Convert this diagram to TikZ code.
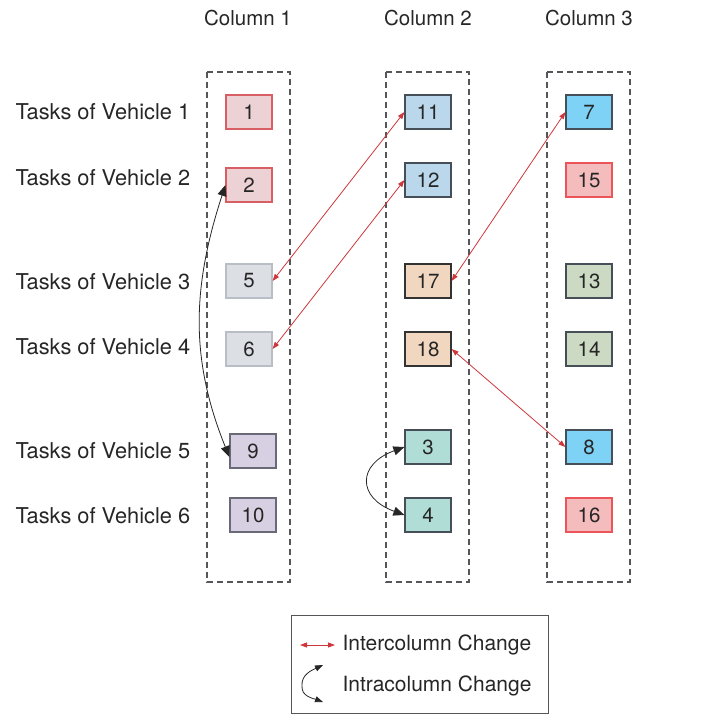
\documentclass[tikz,border=0pt]{standalone}
\usepackage{fontspec}
\setmainfont{TeX Gyre Heros}
\usetikzlibrary{arrows.meta}
\definecolor{dashgray}{RGB}{85,85,90}
\definecolor{redarrow}{RGB}{205,55,60}
\definecolor{pinkfill}{RGB}{236,209,213}\definecolor{pinkdraw}{RGB}{215,95,100}
\definecolor{rosefill}{RGB}{244,188,188}\definecolor{rosedraw}{RGB}{235,85,90}
\definecolor{grayfill}{RGB}{220,223,228}\definecolor{graydraw}{RGB}{185,190,198}
\definecolor{lavfill}{RGB}{215,208,226}\definecolor{lavdraw}{RGB}{105,105,120}
\definecolor{lbluefill}{RGB}{186,215,235}\definecolor{sbluefill}{RGB}{125,210,245}
\definecolor{peachfill}{RGB}{242,215,192}\definecolor{sagefill}{RGB}{205,218,195}
\definecolor{tealfill}{RGB}{176,222,214}\definecolor{darkdraw}{RGB}{70,78,88}
\begin{document}
\begin{tikzpicture}[x=1pt,y=-1pt,
  every node/.style={font=\fontsize{20.5}{24}\selectfont, text=black!85},
  task/.style={draw, line width=1.2pt, minimum width=46pt, minimum height=34pt, inner sep=0pt},
  colbox/.style={draw=dashgray, dashed, dash pattern=on 6pt off 4pt, line width=1.1pt},
  inter/.style={draw=redarrow, line width=0.8pt, {Triangle[length=7pt,width=5pt]}-{Triangle[length=7pt,width=5pt]}},
  intra/.style={draw=black!85, line width=0.8pt, {Triangle[length=11pt,width=9pt]}-{Triangle[length=11pt,width=9pt]}},
  vlabel/.style={anchor=west, font=\fontsize{21.8}{25}\selectfont},
  legtext/.style={anchor=west, font=\fontsize{21}{25}\selectfont}]
\useasboundingbox (0,0) rectangle (727,715);
% column boxes
\draw[colbox] (207,72) rectangle (290,582);
\draw[colbox] (386,72) rectangle (469,582);
\draw[colbox] (547,72) rectangle (630,582);
% titles
\node (c1) at (248,18) {Column 1};
\node (c2) at (428,18) {Column 2};
\node (c3) at (589,18) {Column 3};
% row labels
\node[vlabel] (v1) at (12,112) {Tasks of Vehicle 1};
\node[vlabel] (v2) at (12,178) {Tasks of Vehicle 2};
\node[vlabel] (v3) at (12,282) {Tasks of Vehicle 3};
\node[vlabel] (v4) at (12,347) {Tasks of Vehicle 4};
\node[vlabel] (v5) at (12,451) {Tasks of Vehicle 5};
\node[vlabel] (v6) at (12,516) {Tasks of Vehicle 6};
% column 1
\node[task, fill=pinkfill, draw=pinkdraw] (n1) at (249,112) {1};
\node[task, fill=pinkfill, draw=pinkdraw] (n2) at (249,185) {2};
\node[task, fill=grayfill, draw=graydraw] (n5) at (249,281) {5};
\node[task, fill=grayfill, draw=graydraw] (n6) at (249,349) {6};
\node[task, fill=lavfill, draw=lavdraw] (n9) at (253,451) {9};
\node[task, fill=lavfill, draw=lavdraw] (n10) at (253,515) {10};
% column 2
\node[task, fill=lbluefill, draw=darkdraw] (n11) at (428,112) {11};
\node[task, fill=lbluefill, draw=darkdraw] (n12) at (428,180) {12};
\node[task, fill=peachfill, draw=black!80] (n17) at (428,281) {17};
\node[task, fill=peachfill, draw=black!80] (n18) at (428,349) {18};
\node[task, fill=tealfill, draw=darkdraw] (n3) at (428,447) {3};
\node[task, fill=tealfill, draw=darkdraw] (n4) at (428,515) {4};
% column 3
\node[task, fill=sbluefill, draw=darkdraw] (n7) at (589,112) {7};
\node[task, fill=rosefill, draw=rosedraw] (n15) at (589,180) {15};
\node[task, fill=sagefill, draw=darkdraw] (n13) at (589,281) {13};
\node[task, fill=sagefill, draw=darkdraw] (n14) at (589,349) {14};
\node[task, fill=sbluefill, draw=darkdraw] (n8) at (589,447) {8};
\node[task, fill=rosefill, draw=rosedraw] (n16) at (589,515) {16};
% intercolumn changes
\draw[inter] (n5.east) -- (n11.west);
\draw[inter] (n6.east) -- (n12.west);
\draw[inter] (n17.east) -- (n7.west);
\draw[inter] (n18.east) -- (n8.west);
% intracolumn changes
\draw[intra] (n2.west) to[out=252,in=112,looseness=1.0] ([yshift=-6pt]n9.west);
\draw[intra] (n3.west) to[out=200,in=160,looseness=1.9] (n4.west);
% legend
\node[draw=dashgray, line width=0.9pt, minimum width=257pt, minimum height=98pt, inner sep=0pt] (leg) at (419.5,664) {};
\coordinate (la) at (300,645);
\coordinate (lb) at (335,645);
\draw[draw=redarrow, line width=0.9pt, {Triangle[length=7pt,width=5pt]}-{Triangle[length=7pt,width=5pt]}] (la) -- (lb);
\node[legtext] (lt1) at (339,645) {Intercolumn Change};
\node[legtext] (lt2) at (339,686) {Intracolumn Change};
\coordinate (lm) at (302,686);
\coordinate (lu) at (323,665);
\coordinate (ld) at (323,702);
\draw[black!85, line width=0.8pt, -{Triangle[length=8pt,width=6pt]}] (lm) to[out=95,in=205] (lu);
\draw[black!85, line width=0.8pt, -{Triangle[length=8pt,width=6pt]}] (lm) to[out=-95,in=160] (ld);
\end{tikzpicture}
\end{document}
